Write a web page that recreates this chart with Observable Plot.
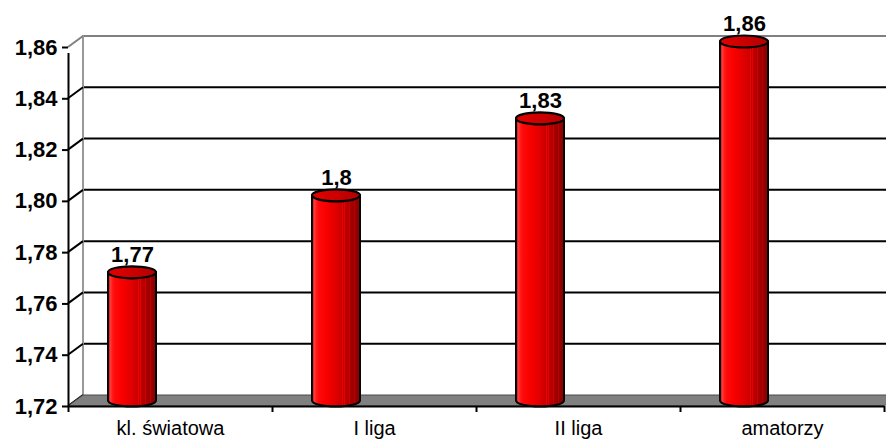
<!DOCTYPE html>
<html>
<head>
<meta charset="utf-8">
<script src="https://cdn.jsdelivr.net/npm/d3@7"></script>
<script src="https://cdn.jsdelivr.net/npm/@observablehq/plot@0.6"></script>
<style>
  html, body { margin: 0; padding: 0; background: #fff; }
  #chart svg { display: block; }
</style>
</head>
<body>
<div id="chart"></div>
<script>
// Average height (m) by playing level
const categories = ["kl. światowa", "I liga", "II liga", "amatorzy"];
const values = [1.77, 1.8, 1.83, 1.86];
const valueLabels = ["1,77", "1,8", "1,83", "1,86"];
const yTicks = [1.72, 1.74, 1.76, 1.78, 1.80, 1.82, 1.84, 1.86];
const yTickLabels = ["1,72", "1,74", "1,76", "1,78", "1,80", "1,82", "1,84", "1,86"];
const categoryBounds = [0, 1, 2, 3, 4];

// 3-D look: depth of the box and placement of the cylinders inside it
const DEPTH_X = 15, DEPTH_Y = -11;
const CYL_DX = -38, CYL_DY = -5.5, CYL_RX = 24, CYL_RY = 6;

const rows = categories.map((c, i) => ({c, i, v: values[i], label: valueLabels[i]}));

// Walls, floor and the slanted tick connectors of the box
function box3d(index, {x, y}) {
  const g = d3.create("svg:g");
  const x0 = x(0), x1 = x(categories.length), yb = y(yTicks[0]), yt = y(yTicks[yTicks.length - 1]);
  // back wall grid lines
  yTicks.slice(1).forEach((t, k, arr) => {
    g.append("line")
      .attr("x1", x0 + DEPTH_X).attr("x2", x1 + DEPTH_X)
      .attr("y1", y(t) + DEPTH_Y).attr("y2", y(t) + DEPTH_Y)
      .attr("stroke", k === arr.length - 1 ? "#808080" : "#000")
      .attr("stroke-width", 2);
  });
  // left wall edge
  g.append("line")
    .attr("x1", x0 + DEPTH_X).attr("x2", x0 + DEPTH_X)
    .attr("y1", yb + DEPTH_Y).attr("y2", yt + DEPTH_Y - 1)
    .attr("stroke", "#999").attr("stroke-width", 2);
  // connectors from the axis ticks to the back wall
  yTicks.forEach((t, k) => {
    g.append("line")
      .attr("x1", x0).attr("y1", y(t))
      .attr("x2", x0 + DEPTH_X).attr("y2", y(t) + DEPTH_Y)
      .attr("stroke", k === yTicks.length - 1 ? "#808080" : "#000")
      .attr("stroke-width", 2);
  });
  // floor
  g.append("path")
    .attr("d", `M${x0},${yb}L${x1},${yb}L${x1 + DEPTH_X},${yb + DEPTH_Y}L${x0 + DEPTH_X},${yb + DEPTH_Y}Z`)
    .attr("fill", "#808080").attr("stroke", "#4a4a4a").attr("stroke-width", 1);
  return g.node();
}

// Red cylinders, one per category
function cylinders(index, {x, y}) {
  const g = d3.create("svg:g");
  const defs = g.append("defs");
  const body = defs.append("linearGradient").attr("id", "cyl-body")
    .attr("x1", 0).attr("x2", 1).attr("y1", 0).attr("y2", 0);
  const base = d3.scaleLinear()
    .domain([0, 0.04, 0.12, 0.3, 0.5, 0.75, 1])
    .range(["#c00000", "#ff4040", "#ff0a0a", "#f80000", "#e00000", "#b00000", "#880000"]);
  const stops = [];
  for (let k = 0; k <= 20; k++) stops.push([k / 20, base(k / 20)]);
  // fine light stripes over the shaded half
  [0.52, 0.58, 0.63, 0.68, 0.73, 0.78, 0.83, 0.88, 0.92, 0.96].forEach(o => {
    const c = d3.color(base(o)).brighter(0.55).formatHex();
    stops.push([o - 0.004, base(o - 0.004)], [o - 0.004, c], [o + 0.006, c], [o + 0.006, base(o + 0.006)]);
  });
  stops.sort((a, b) => a[0] - b[0]);
  stops.forEach(([o, c]) => body.append("stop").attr("offset", o).attr("stop-color", c));
  const top = defs.append("linearGradient").attr("id", "cyl-top")
    .attr("x1", 0).attr("x2", 1).attr("y1", 0).attr("y2", 0);
  top.append("stop").attr("offset", 0).attr("stop-color", "#e40000");
  top.append("stop").attr("offset", 1).attr("stop-color", "#b40000");

  rows.forEach(d => {
    const cx = x(d.i + 0.5) + CYL_DX;
    const yTop = y(d.v) + CYL_DY;
    const yBot = y(yTicks[0]) + CYL_DY;
    const l = cx - CYL_RX, r = cx + CYL_RX;
    g.append("path")
      .attr("d", `M${l},${yTop}L${l},${yBot}A${CYL_RX},${CYL_RY} 0 0 0 ${r},${yBot}L${r},${yTop}Z`)
      .attr("fill", "url(#cyl-body)").attr("stroke", "#000").attr("stroke-width", 2);
    g.append("ellipse")
      .attr("cx", cx).attr("cy", yTop).attr("rx", CYL_RX).attr("ry", CYL_RY)
      .attr("fill", "url(#cyl-top)").attr("stroke", "#000").attr("stroke-width", 2.2);
  });
  return g.node();
}

const chart = Plot.plot({
  width: 886,
  height: 439,
  marginLeft: 68,
  marginRight: 2,
  marginTop: 47,
  marginBottom: 33,
  x: {domain: [0, categories.length], axis: null},
  y: {domain: [yTicks[0], yTicks[yTicks.length - 1]], axis: null},
  style: {fontFamily: "Arial, 'Liberation Sans', sans-serif", color: "#000", background: "#fff"},
  marks: [
    box3d,
    cylinders,
    // front value axis
    Plot.ruleX([0], {y1: yTicks[0], y2: yTicks[yTicks.length - 1], stroke: "#000", strokeWidth: 2, insetBottom: -6}),
    Plot.axisY(yTicks, {
      label: null,
      tickSize: 6, tickPadding: 5, strokeWidth: 2,
      tickFormat: (d, i) => yTickLabels[i],
      fontSize: 22, fontWeight: "bold", letterSpacing: 0.6
    }),
    // front category axis
    Plot.ruleY([yTicks[0]], {stroke: "#000", strokeWidth: 2}),
    Plot.axisX(categoryBounds, {label: null, tickSize: 6, strokeWidth: 2, tickFormat: () => ""}),
    Plot.text(rows, {
      x: d => d.i + 0.5, y: yTicks[0], text: "c",
      dy: 22, fontSize: 20, letterSpacing: 1.1, lineAnchor: "middle"
    }),
    // value labels above the cylinders
    Plot.text(rows, {
      x: d => d.i + 0.5, y: "v", text: "label",
      dx: CYL_DX, dy: CYL_DY - 18, fontSize: 22, fontWeight: "bold", letterSpacing: 0.6,
      lineAnchor: "middle"
    })
  ]
});

document.getElementById("chart").append(chart);
</script>
</body>
</html>
